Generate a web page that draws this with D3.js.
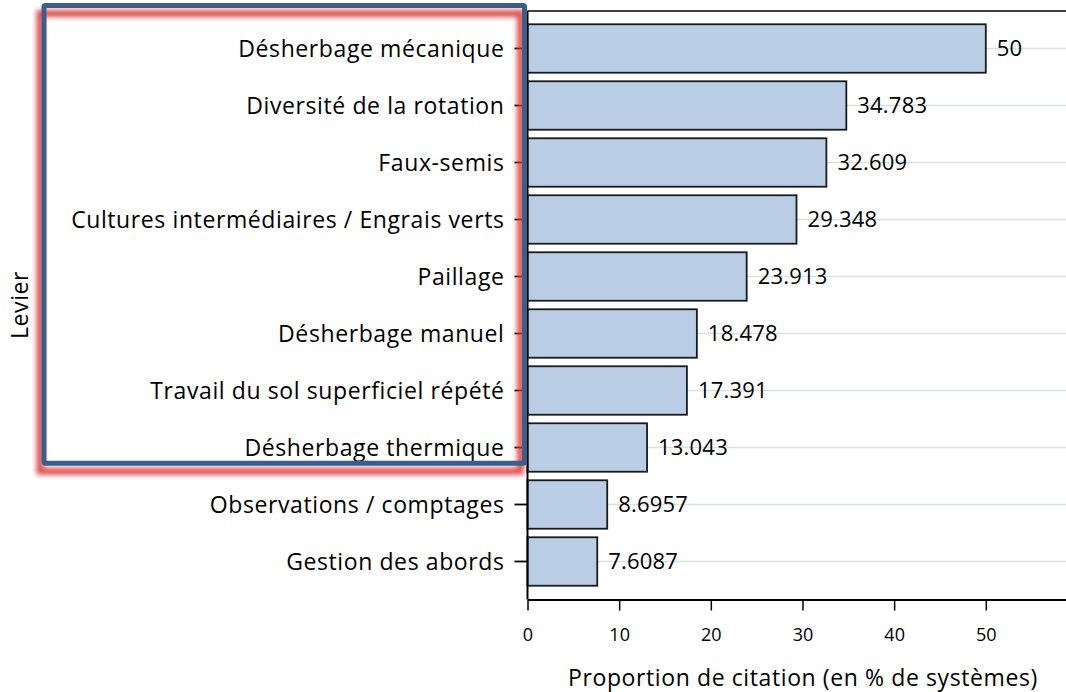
<!DOCTYPE html>
<html>
<head>
<meta charset="utf-8">
<script src="https://d3js.org/d3.v7.min.js"></script>
<style>
    body { margin:0; background:#ffffff; }
    svg text { font-family:"Open Sans", sans-serif; fill:#000; }
</style>
</head>
<body>
<div id="barGraph"></div>
<script>
var leviers = ["Désherbage mécanique","Diversité de la rotation","Faux-semis",
    "Cultures intermédiaires / Engrais verts","Paillage","Désherbage manuel",
    "Travail du sol superficiel répété","Désherbage thermique",
    "Observations / comptages","Gestion des abords"];
var proportions = [50,34.783,32.609,29.348,23.913,18.478,17.391,13.043,8.6957,7.6087];
var valueLabels = ["50","34.783","32.609","29.348","23.913","18.478","17.391","13.043","8.6957","7.6087"];
var xTicks = [0,10,20,30,40,50];

function DrawBar(){
    var width = 1066;
    var height = 692;
    var left = 527.5, right = 1066, top = 11, bottom = 599.5;

    var xScale = d3.scaleLinear()
        .domain([0,58.75])
        .range([left,right]);

    var yScale = d3.scaleBand()
        .domain(leviers)
        .range([20,590])
        .paddingInner(0.15)
        .paddingOuter(0.075);

    var svg = d3.select("#barGraph").append("svg")
        .attr("width", width)
        .attr("height", height);

    var defs = svg.append("defs");
    defs.append("filter")
        .attr("id","glow")
        .attr("x","-10%").attr("y","-10%")
        .attr("width","120%").attr("height","120%")
        .append("feGaussianBlur")
        .attr("stdDeviation",2.4);

    // light grid lines at each category
    svg.selectAll(".grid")
        .data(leviers)
        .enter()
        .append("line")
        .attr("class","grid")
        .attr("x1",left)
        .attr("x2",right)
        .attr("y1",d=>yScale(d)+yScale.bandwidth()/2)
        .attr("y2",d=>yScale(d)+yScale.bandwidth()/2)
        .style("stroke","#d4e5dd")
        .style("stroke-width",1.5);

    // top frame line
    svg.append("line")
        .attr("x1",left).attr("x2",right)
        .attr("y1",top).attr("y2",top)
        .style("stroke","#000")
        .style("stroke-width",1.3);

    svg.selectAll(".bar")
        .data(proportions)
        .enter()
        .append("rect")
        .attr("class","bar")
        .attr("x",xScale(0))
        .attr("y",(d,i)=>yScale(leviers[i]))
        .attr("width",d=>xScale(d)-xScale(0))
        .attr("height",yScale.bandwidth())
        .style("fill","#b9cee5")
        .style("stroke","#1a1a1a")
        .style("stroke-width",1.8);

    svg.selectAll(".val")
        .data(proportions)
        .enter()
        .append("text")
        .attr("class","val")
        .attr("x",d=>xScale(d)+11)
        .attr("y",(d,i)=>yScale(leviers[i])+yScale.bandwidth()/2)
        .attr("dy","0.36em")
        .style("font-size","22px")
        .style("letter-spacing","0.2px")
        .text((d,i)=>valueLabels[i]);

    var yAxis = d3.axisLeft(yScale).tickSize(13).tickPadding(10);
    var gy = svg.append("g")
        .attr("class","y axis")
        .attr("transform","translate("+left+",0)")
        .call(yAxis);
    gy.select(".domain")
        .attr("d","M0,"+top+"V"+bottom)
        .style("stroke-width",2);
    gy.selectAll(".tick line").style("stroke-width",1.8);
    gy.selectAll("text")
        .style("font-size","23px")
        .style("letter-spacing","0.6px")
        .attr("dy","0.36em");

    var xAxis = d3.axisBottom(xScale).tickValues(xTicks).tickSize(11).tickPadding(18).tickSizeOuter(0);
    var gx = svg.append("g")
        .attr("class","x axis")
        .attr("transform","translate(0,"+bottom+")")
        .call(xAxis);
    gx.select(".domain").style("stroke-width",2);
    gx.selectAll(".tick line").style("stroke-width",1.5);
    gx.selectAll("text").style("font-size","18px");

    svg.append("text")
        .attr("x",803)
        .attr("y",686)
        .style("text-anchor","middle")
        .style("font-size","23px")
        .style("letter-spacing","0.6px")
        .text("Proportion de citation (en % de systèmes)");

    svg.append("text")
        .attr("transform","translate(28,305) rotate(-90)")
        .style("text-anchor","middle")
        .style("font-size","23px")
        .style("letter-spacing","0.6px")
        .text("Levier");

    // highlight box round the first eight levers
    var box = {x:44, y:5.5, w:480.5, h:457.8};
    svg.append("rect")
        .attr("x",box.x-4).attr("y",box.y+8)
        .attr("width",box.w).attr("height",box.h)
        .style("fill","none")
        .style("stroke","#d83c3c")
        .style("stroke-width",7)
        .style("opacity",0.9)
        .attr("filter","url(#glow)");
    svg.append("rect")
        .attr("x",box.x).attr("y",box.y)
        .attr("width",box.w).attr("height",box.h)
        .attr("rx",1.5)
        .style("fill","none")
        .style("stroke","#3b5e8c")
        .style("stroke-width",5);
}

DrawBar();
</script>
</body>
</html>
